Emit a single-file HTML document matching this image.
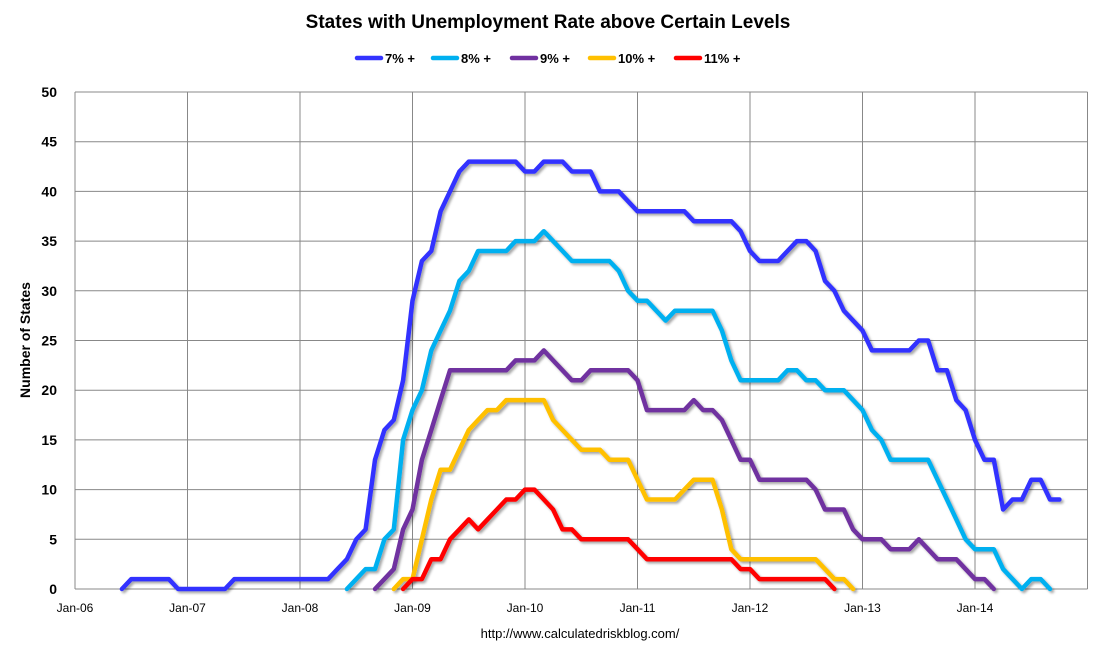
<!DOCTYPE html>
<html><head><meta charset="utf-8"><style>
body{margin:0;background:#fff;font-family:"Liberation Sans",sans-serif}
svg text{font-family:"Liberation Sans",sans-serif}
</style></head><body>
<svg id="c" width="1096" height="653">
<defs><filter id="sh" x="-5%" y="-5%" width="110%" height="110%"><feDropShadow dx="2" dy="2" stdDeviation="1.2" flood-color="#000" flood-opacity="0.35"/></filter></defs>
<text x="548" y="28" text-anchor="middle" font-size="19" font-weight="bold">States with Unemployment Rate above Certain Levels</text>
<g id="legend"></g>
<g id="grid"></g><g id="axes"></g><g id="series"></g>
<text transform="translate(30,340) rotate(-90)" text-anchor="middle" font-size="14" font-weight="bold">Number of States</text>
<text x="580" y="638" text-anchor="middle" font-size="13">http://www.calculatedriskblog.com/</text>
</svg>
<script>
const xLabels=["Jan-06","Jan-07","Jan-08","Jan-09","Jan-10","Jan-11","Jan-12","Jan-13","Jan-14"];
const yTicks=[0,5,10,15,20,25,30,35,40,45,50];
const seriesNames=["7% +","8% +","9% +","10% +","11% +"];
const seriesColors=["#3333ff","#00b0f0","#7030a0","#ffc000","#ff0000"];
const start7=5;
const s7=[0,1,1,1,1,1,0,0,0,0,0,0,1,1,1,1,1,1,1,1,1,1,1,2,3,5,6,13,16,17,21,29,33,34,38,40,42,43,43,43,43,43,43,42,42,43,43,43,42,42,42,40,40,40,39,38,38,38,38,38,38,37,37,37,37,37,36,34,33,33,33,34,35,35,34,31,30,28,27,26,24,24,24,24,24,25,25,22,22,19,18,15,13,13,8,9,9,11,11,9,9];
const start8=29;
const s8=[0,1,2,2,5,6,15,18,20,24,26,28,31,32,34,34,34,34,35,35,35,36,35,34,33,33,33,33,33,32,30,29,29,28,27,28,28,28,28,28,26,23,21,21,21,21,21,22,22,21,21,20,20,20,19,18,16,15,13,13,13,13,13,11,9,7,5,4,4,4,2,1,0,1,1,0];
const start9=32;
const s9=[0,1,2,6,8,13,16,19,22,22,22,22,22,22,22,23,23,23,24,23,22,21,21,22,22,22,22,22,21,18,18,18,18,18,19,18,18,17,15,13,13,11,11,11,11,11,11,10,8,8,8,6,5,5,5,4,4,4,5,4,3,3,3,2,1,1,0];
const start10=34;
const s10=[0,1,1,5,9,12,12,14,16,17,18,18,19,19,19,19,19,17,16,15,14,14,14,13,13,13,11,9,9,9,9,10,11,11,11,8,4,3,3,3,3,3,3,3,3,3,2,1,1,0];
const start11=35;
const s11=[0,1,1,3,3,5,6,7,6,7,8,9,9,10,10,9,8,6,6,5,5,5,5,5,5,4,3,3,3,3,3,3,3,3,3,3,2,2,1,1,1,1,1,1,1,1,0];
const L=75,R=1087.5,T=92,B=589,months=108;
const X=m=>L+(R-L)*m/months, Y=v=>B-(B-T)*v/50;
const NS="http://www.w3.org/2000/svg";
function mk(t,a,p){const e=document.createElementNS(NS,t);for(const k in a)e.setAttribute(k,a[k]);p.appendChild(e);return e;}
const grid=document.getElementById('grid'),axes=document.getElementById('axes'),ser=document.getElementById('series'),leg=document.getElementById('legend');
yTicks.forEach(v=>{const l=mk('line',{x1:L,x2:R,y1:Y(v),y2:Y(v),stroke:'#888','stroke-width':1},grid);


const t=mk('text',{x:L-18,y:Y(v)+5,'text-anchor':'end','font-size':14,'font-weight':'bold'},axes);t.textContent=v;

});
xLabels.forEach((s,i)=>{const x=X(i*12);const l=mk('line',{x1:x,x2:x,y1:T,y2:B,stroke:'#888','stroke-width':1},grid);


const t=mk('text',{x:x,y:B+23,'text-anchor':'middle','font-size':12},axes);t.textContent=s;

});
mk('line',{x1:R,x2:R,y1:T,y2:B,stroke:'#888'},grid);
mk('line',{x1:L,x2:L,y1:T,y2:B,stroke:'#888'},axes);
mk('line',{x1:L,x2:R,y1:B,y2:B,stroke:'#888'},axes);
const all=[[start7,s7],[start8,s8],[start9,s9],[start10,s10],[start11,s11]];
all.forEach(([st,arr],k)=>{const pts=arr.map((v,i)=>X(st+i).toFixed(1)+','+Y(v).toFixed(1)).join(' ');
const p=mk('polyline',{points:pts,fill:'none',stroke:seriesColors[k],'stroke-width':4.5,'stroke-linejoin':'round','stroke-linecap':'round',filter:'url(#sh)'},ser);

});
const lx=[357,433,512,590,676];
seriesNames.forEach((n,k)=>{const g=mk('g',{},leg);


mk('line',{x1:lx[k],x2:lx[k]+24,y1:58,y2:58,stroke:seriesColors[k],'stroke-width':4.5,'stroke-linecap':'round'},g);
const t=mk('text',{x:lx[k]+28,y:63,'font-size':13,'font-weight':'bold'},g);t.textContent=n;});
</script>
</body></html>
